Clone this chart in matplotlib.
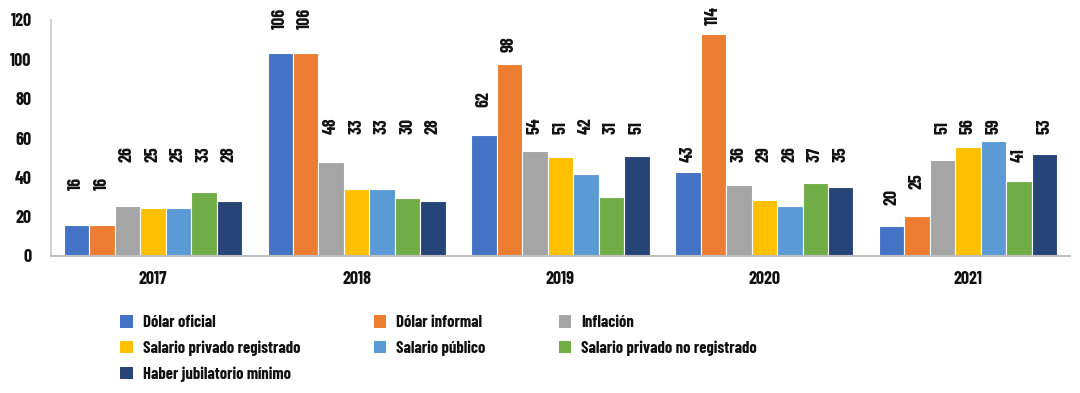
import numpy as np
import matplotlib
matplotlib.use("Agg")
import matplotlib.pyplot as plt
from matplotlib import font_manager
from matplotlib.patches import Patch

# Datos del grafico
anios = ["2017", "2018", "2019", "2020", "2021"]
series = ["Dólar oficial", "Dólar informal", "Inflación",
          "Salario privado registrado", "Salario público",
          "Salario privado no registrado", "Haber jubilatorio mínimo"]

# Altura de cada barra tal como se ve en el grafico
dolar_oficial = [15.6, 103.4, 61.5, 42.7, 15.1]
dolar_informal = [15.6, 103.4, 97.6, 112.9, 20.2]
inflacion = [25.6, 47.6, 53.2, 35.9, 48.6]
salario_priv_reg = [24.4, 33.9, 50.5, 28.3, 55.3]
salario_publico = [24.4, 33.9, 41.5, 25.2, 58.5]
salario_priv_no_reg = [32.5, 29.5, 30.2, 37.1, 38.1]
haber_jubilatorio = [27.8, 27.8, 50.7, 34.9, 51.7]
alturas = [dolar_oficial, dolar_informal, inflacion, salario_priv_reg,
           salario_publico, salario_priv_no_reg, haber_jubilatorio]

# Etiquetas de datos (texto)
etiquetas = [
    [16, 106, 62, 43, 20],
    [16, 106, 98, 114, 25],
    [26, 48, 54, 36, 51],
    [25, 33, 51, 29, 56],
    [25, 33, 42, 26, 59],
    [33, 30, 31, 37, 41],
    [28, 28, 51, 35, 53],
]

# Posicion (base) de cada etiqueta, por serie y anio
pos_etiquetas = [
    [33.5, 115.3, 75.9, 47.9, 25.9],
    [33.5, 115.3, 103.9, 117.4, 34.1],
    [47.8, 61.8, 61.8, 47.9, 61.8],
    [47.8, 61.8, 61.8, 47.9, 61.8],
    [47.8, 61.8, 61.8, 47.9, 61.8],
    [47.8, 61.8, 61.8, 47.9, 47.9],
    [47.8, 61.8, 61.8, 47.9, 61.8],
]

colores = ["#4472C4", "#ED7D31", "#A5A5A5", "#FFC000",
           "#5B9BD5", "#70AD47", "#264478"]

# Fuente condensada (parecida a DIN Condensed)
disponibles = {f.name for f in font_manager.fontManager.ttflist}
fuente = "DejaVu Sans"
for candidata in ["Barlow Condensed", "Roboto Condensed"]:
    if candidata in disponibles:
        fuente = candidata
        break
plt.rcParams["font.family"] = [fuente, "DejaVu Sans"]
plt.rcParams["font.weight"] = "bold"

color_texto = "#111111"

fig = plt.figure(figsize=(10.8, 3.93), dpi=100)
ax = fig.add_axes([51 / 1080, 1 - 256 / 393, 1019 / 1080, 236 / 393])

x = np.arange(len(anios))
n = len(series)
ancho = 0.125
for i in range(n):
    xs = x + (i - (n - 1) / 2) * ancho
    ax.bar(xs, alturas[i], width=ancho, color=colores[i],
           edgecolor="white", linewidth=0.8, zorder=2)
    for j in range(len(anios)):
        ax.text(xs[j], pos_etiquetas[i][j], str(etiquetas[i][j]),
                rotation=90, ha="center", va="bottom",
                fontsize=13, color=color_texto, clip_on=False)

ax.set_xlim(-0.5, len(anios) - 0.5)
ax.set_ylim(0, 120)
ax.set_yticks(np.arange(0, 121, 20))
ax.set_xticks(x)
ax.set_xticklabels(anios)
ax.tick_params(axis="both", length=0, labelsize=13, colors=color_texto)
ax.tick_params(axis="y", pad=14)
ax.tick_params(axis="x", pad=11)

for lado in ["top", "right"]:
    ax.spines[lado].set_visible(False)
ax.spines["left"].set_color("#C8C8C8")
ax.spines["bottom"].set_color("#BFBFBF")
ax.spines["left"].set_linewidth(1.2)
ax.spines["bottom"].set_linewidth(1.5)

# Leyenda: tres columnas, se llena por filas
orden = [0, 3, 6, 1, 4, 2, 5]
handles = [Patch(facecolor=colores[k], edgecolor="none") for k in orden]
nombres = [series[k] for k in orden]
fig.legend(handles, nombres, loc="upper left", bbox_to_anchor=(112 / 1080, 1 - 307 / 393),
           ncol=3, frameon=False, fontsize=12, handlelength=0.75, handleheight=0.75,
           handletextpad=0.6, columnspacing=4.4, labelspacing=0.62, borderpad=0,
           labelcolor=color_texto)

fig.savefig("out.png", dpi=100)
